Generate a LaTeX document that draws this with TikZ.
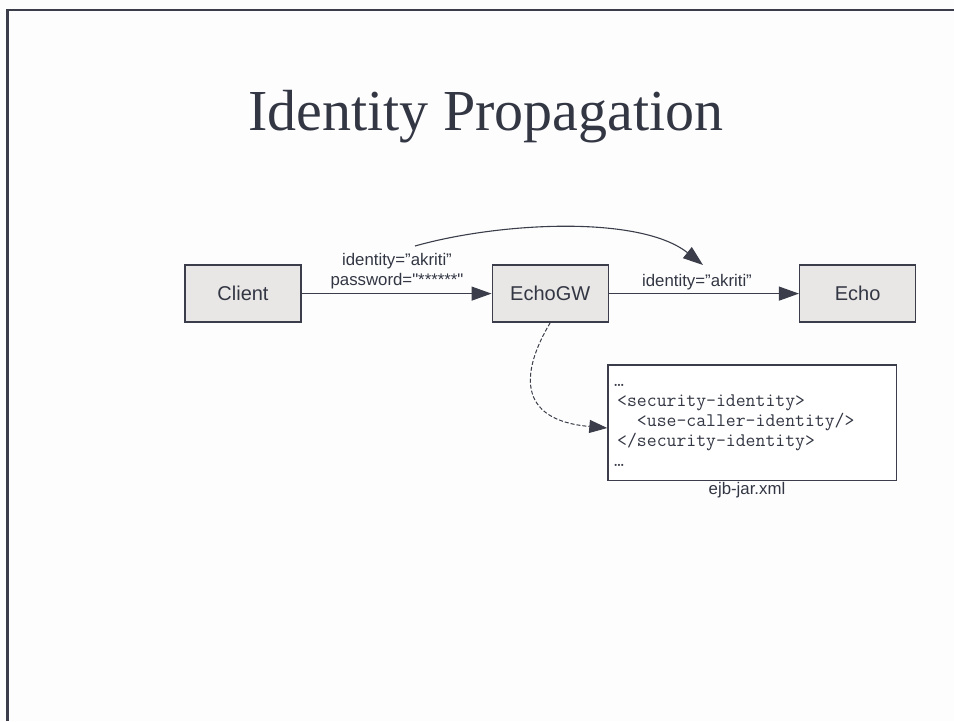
\documentclass[tikz,border=0pt]{standalone}
\usepackage{fontspec}
\setmainfont{Liberation Serif}
\newfontfamily\labelfont{Liberation Sans}
\usetikzlibrary{arrows.meta}

\definecolor{ink}{HTML}{333744}
\definecolor{edge}{HTML}{3B3E4A}
\definecolor{boxfill}{HTML}{E9E7E5}
\definecolor{paper}{HTML}{FDFDFD}

\tikzset{
  component/.style={draw=edge, line width=1.3pt, fill=boxfill, text=ink,
    minimum width=116pt, minimum height=57pt, inner sep=0pt,
    font=\labelfont\fontsize{20}{24}\selectfont},
  docbox/.style={draw=edge, line width=1.3pt, fill=white,
    minimum width=288.7pt, minimum height=115.5pt, inner sep=0pt},
  msg/.style={text=ink, inner sep=0pt, anchor=base,
    font=\labelfont\fontsize{16.8}{20}\selectfont},
  codeline/.style={text=ink, inner sep=0pt, anchor=base west,
    font=\ttfamily\fontsize{19.2}{20}\selectfont},
  flow/.style={draw=edge, line width=1.1pt,
    -{Triangle[length=20pt,width=14pt]}},
  callout/.style={draw=edge, line width=1pt, dash pattern=on 4pt off 2pt,
    -{Triangle[length=18pt,width=13pt]}},
}

\begin{document}
\begin{tikzpicture}[x=1pt, y=-1pt]
  % page and frame
  \fill[paper] (0,0) rectangle (954,721);
  \useasboundingbox (0,0) rectangle (954,721);
  \coordinate (frameTL) at (7.5,10);
  \coordinate (frameTR) at (954,10);
  \coordinate (frameBL) at (7.5,721);
  \draw[edge, line width=2.3pt] (frameBL) -- (frameTL) -- (frameTR);

  % title
  \node[text=ink, inner sep=0pt, anchor=base,
        font=\fontsize{58}{64}\selectfont] (title) at (486,130.5)
        {Identity Propagation};

  % components
  \node[component] (client) at (243,293.6) {Client};
  \node[component] (gw)     at (550.2,293.6) {EchoGW};
  \node[component] (echo)   at (857.6,293.6) {Echo};

  % deployment descriptor
  \node[docbox] (dd) at (752.3,422.7) {};
  \node[codeline] (c1) at (614,386.7) {…};
  \node[codeline] (c2) at (617,406.7) {<security-identity>};
  \node[codeline] (c3) at (617,426.7) {\ \ <use-caller-identity/>};
  \node[codeline] (c4) at (617,446.7) {</security-identity>};
  \node[codeline] (c5) at (614,466.7) {…};
  \node[msg] (ddname) at (747,494) {ejb-jar.xml};

  % calls
  \draw[flow] (client.east) -- (gw.west);
  \draw[flow] (gw.east) -- (echo.west);
  \node[msg] (cred1) at (397,265.7) {identity=”akriti”};
  \node[msg] (cred2) at (397,285.7) {password="******"};
  \node[msg] (fwd)   at (697,286.5) {identity=”akriti”};

  % identity carried through to Echo
  \coordinate (idstart) at (415,246);
  \coordinate (idend)   at (703,265);
  \draw[flow] (idstart) .. controls (500,222) and (640,215) .. (idend);

  % EchoGW configured by the descriptor
  \coordinate (ddin) at (dd.west |- 0,428);
  \draw[callout] (gw.south) .. controls (522,370) and (515,420) .. (ddin);
\end{tikzpicture}
\end{document}
